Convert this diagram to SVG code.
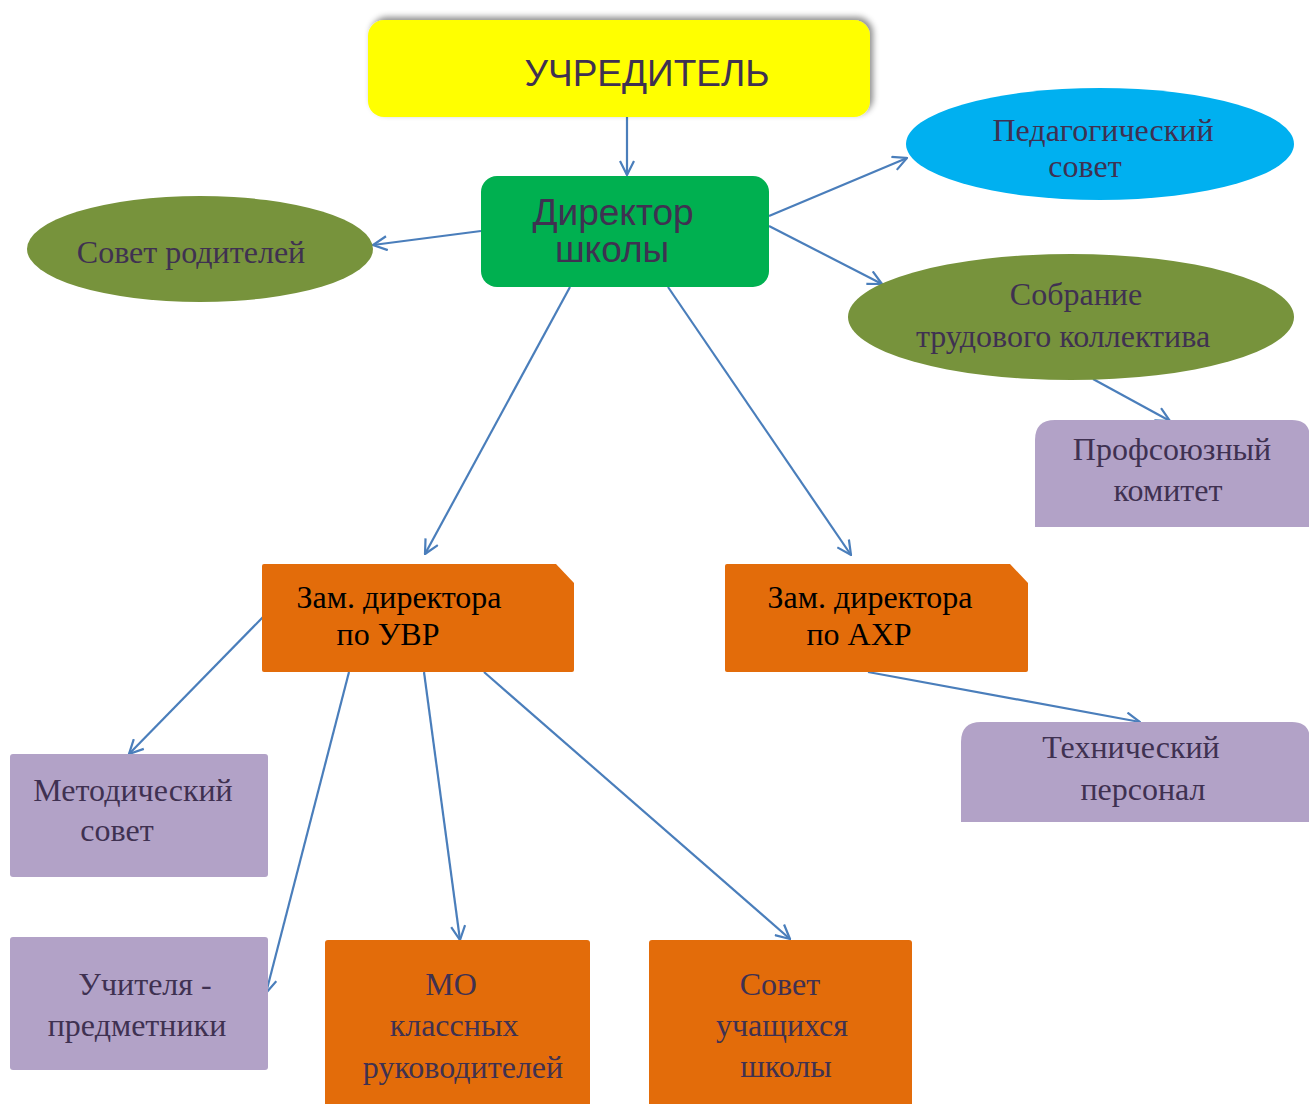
<svg xmlns="http://www.w3.org/2000/svg" width="1309" height="1104" viewBox="0 0 1309 1104">
<style>
.serif{font-family:"Liberation Serif","Times New Roman",serif;font-size:32px;fill:#3F3151;text-anchor:middle}
.blk{fill:#000}
.sans{font-family:"Liberation Sans",Arial,sans-serif;fill:#3F3151;text-anchor:middle;font-size:37px}
.conn{stroke:#4A7EBB;stroke-width:2.2;fill:none;marker-end:url(#arr)}
.purple{fill:#B2A2C7}
.orange{fill:#E36C0A}
.olive{fill:#77933C}
</style>
<defs>
<marker id="arr" viewBox="0 0 16 16" refX="15" refY="8" markerWidth="16" markerHeight="16" markerUnits="userSpaceOnUse" orient="auto">
<path d="M1,1 L15,8 L1,15" fill="none" stroke="#4A7EBB" stroke-width="2.2"/>
</marker>
<filter id="sh" x="-10%" y="-30%" width="120%" height="160%">
<feDropShadow dx="3" dy="-3" stdDeviation="3" flood-color="#000" flood-opacity="0.45"/>
</filter>
</defs>
<rect width="1309" height="1104" fill="#fff"/>

<g id="connectors">
<line class="conn" x1="627" y1="115" x2="627" y2="175"/>
<line class="conn" x1="481" y1="231" x2="373" y2="245"/>
<line class="conn" x1="769" y1="216" x2="907" y2="158"/>
<line class="conn" x1="769" y1="226" x2="882" y2="284"/>
<line class="conn" x1="1093" y1="379" x2="1170" y2="421"/>
<line class="conn" x1="570" y1="287" x2="425" y2="554"/>
<line class="conn" x1="668" y1="287" x2="851" y2="555"/>
<line class="conn" x1="263" y1="617" x2="129" y2="754"/>
<line class="conn" x1="349" y1="672" x2="266" y2="993"/>
<line class="conn" x1="424" y1="672" x2="460" y2="940"/>
<line class="conn" x1="484" y1="672" x2="790" y2="939"/>
<line class="conn" x1="868" y1="672" x2="1140" y2="722"/>
</g>

<g id="uchreditel">
<rect x="368" y="20" width="502" height="97" rx="16" fill="#FFFF00" filter="url(#sh)"/>
<text class="sans" x="647" y="86">УЧРЕДИТЕЛЬ</text>
</g>

<g id="direktor">
<rect x="481" y="176" width="288" height="111" rx="16" fill="#00B050"/>
<text class="sans" x="613" y="225">Директор</text>
<text class="sans" x="612" y="262">школы</text>
</g>

<g id="sovet-roditelei">
<ellipse class="olive" cx="200" cy="249" rx="173" ry="53"/>
<text class="serif" x="191" y="263">Совет родителей</text>
</g>

<g id="ped-sovet">
<ellipse cx="1100" cy="144" rx="194" ry="56" fill="#00B0F0"/>
<text class="serif" x="1103" y="141">Педагогический</text>
<text class="serif" x="1085" y="177">совет</text>
</g>

<g id="sobranie">
<ellipse class="olive" cx="1071" cy="317" rx="223" ry="63"/>
<text class="serif" x="1076" y="305">Собрание</text>
<text class="serif" x="1063" y="347">трудового коллектива</text>
</g>

<g id="profkom">
<path class="purple" d="M1035,527 L1035,440 Q1035,420 1055,420 L1292,420 Q1310,420 1310,438 L1310,527 Z"/>
<text class="serif" x="1172" y="460">Профсоюзный</text>
<text class="serif" x="1168" y="501">комитет</text>
</g>

<g id="zam-uvr">
<path class="orange" d="M262,566 Q262,564 264,564 L556,564 L574,583 L574,670 Q574,672 572,672 L264,672 Q262,672 262,670 Z"/>
<text class="serif blk" x="399" y="608">Зам. директора</text>
<text class="serif blk" x="388" y="645">по УВР</text>
</g>

<g id="zam-ahr">
<path class="orange" d="M725,566 Q725,564 727,564 L1010,564 L1028,583 L1028,670 Q1028,672 1026,672 L727,672 Q725,672 725,670 Z"/>
<text class="serif blk" x="870" y="608">Зам. директора</text>
<text class="serif blk" x="859" y="645">по АХР</text>
</g>

<g id="tech-personal">
<path class="purple" d="M961,822 L961,742 Q961,722 981,722 L1292,722 Q1310,722 1310,740 L1310,822 Z"/>
<text class="serif" x="1131" y="758">Технический</text>
<text class="serif" x="1143" y="800">персонал</text>
</g>

<g id="metod-sovet">
<rect class="purple" x="10" y="754" width="258" height="123" rx="3"/>
<text class="serif" x="133" y="801">Методический</text>
<text class="serif" x="117" y="841">совет</text>
</g>

<g id="uchitelya">
<rect class="purple" x="10" y="937" width="258" height="133" rx="3"/>
<text class="serif" x="145" y="995">Учителя -</text>
<text class="serif" x="137" y="1036">предметники</text>
</g>

<g id="mo-klassnyh">
<rect class="orange" x="325" y="940" width="265" height="170" rx="3"/>
<text class="serif" x="451" y="995">МО</text>
<text class="serif" x="454" y="1036">классных</text>
<text class="serif" x="463" y="1078">руководителей</text>
</g>

<g id="sovet-uchashihsya">
<rect class="orange" x="649" y="940" width="263" height="170" rx="3"/>
<text class="serif" x="780" y="995">Совет</text>
<text class="serif" x="782" y="1036">учащихся</text>
<text class="serif" x="786" y="1077">школы</text>
</g>
</svg>
